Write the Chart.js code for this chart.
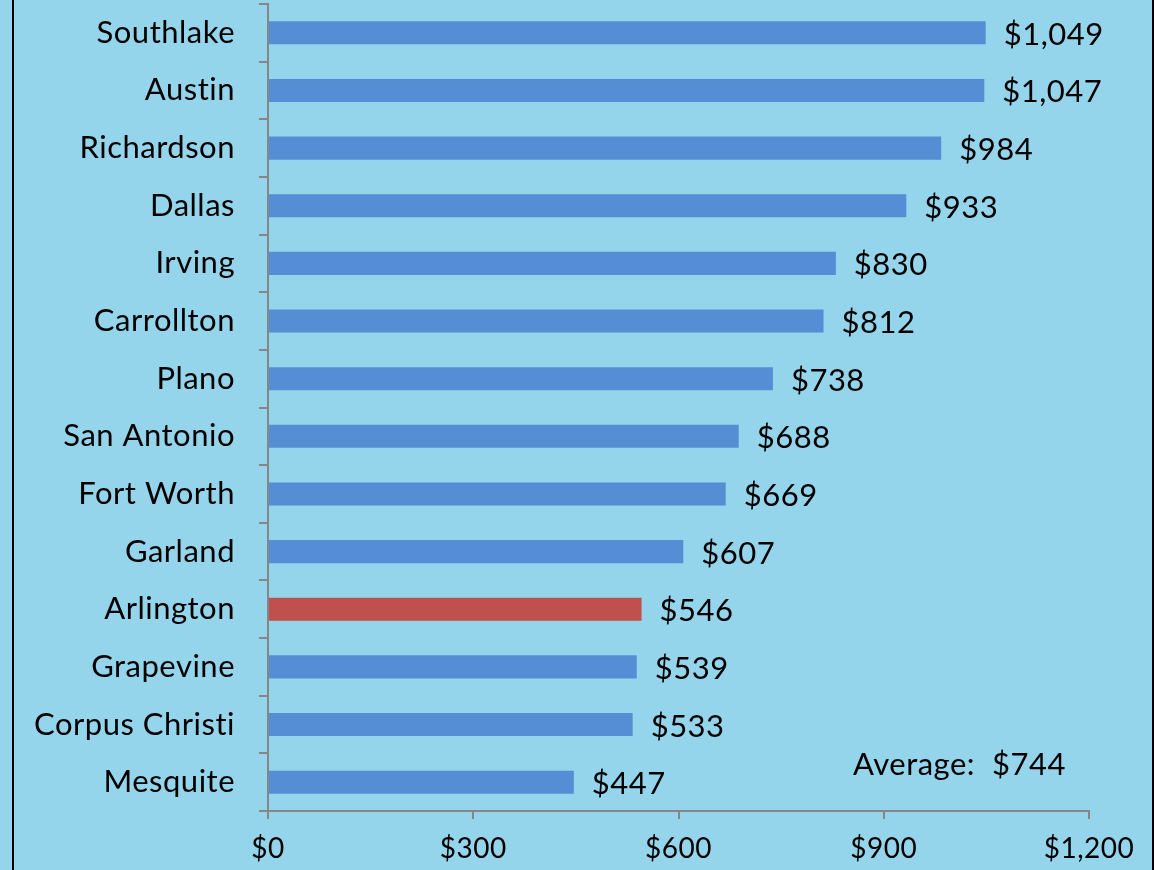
<!DOCTYPE html>
<html>
<head>
<meta charset="utf-8">
<script src="https://cdn.jsdelivr.net/npm/chart.js@4/dist/chart.umd.min.js"></script>
<style>
html,body{margin:0;padding:0;background:#95D5EC;}
#wrap{position:relative;width:1154px;height:870px;overflow:hidden;}
#frame{position:absolute;left:12px;top:0;width:1138px;height:870px;border-left:2px solid #000;border-right:2px solid #000;pointer-events:none;}
canvas{position:absolute;left:0;top:0;}
</style>
</head>
<body>
<div id="wrap">
<canvas id="c" width="1154" height="870"></canvas>
<div id="frame"></div>
</div>
<script>
const cities = ["Southlake","Austin","Richardson","Dallas","Irving","Carrollton","Plano","San Antonio","Fort Worth","Garland","Arlington","Grapevine","Corpus Christi","Mesquite"];
const costs = [1049,1047,984,933,830,812,738,688,669,607,546,539,533,447];
const highlightCity = "Arlington";
const averageValue = 744;
const xTicks = [0,300,600,900,1200];

const FONT = "Lato, 'Open Sans', sans-serif";
const fmt = v => "$" + v.toLocaleString("en-US");

const spacingPlugin = {
  id: "spacing",
  beforeDraw(chart) { chart.ctx.letterSpacing = "0.5px"; }
};

const labelPlugin = {
  id: "labels",
  afterDatasetsDraw(chart) {
    const ctx = chart.ctx;
    const meta = chart.getDatasetMeta(0);
    ctx.save();
    ctx.letterSpacing = "0.5px";
    ctx.font = "31px " + FONT;
    ctx.fillStyle = "#000";
    ctx.textBaseline = "middle";
    ctx.textAlign = "left";
    meta.data.forEach((bar, i) => {
      ctx.fillText(fmt(costs[i]), bar.x + 18, bar.y + 2);
    });
    ctx.fillText("Average:  " + fmt(averageValue), 853, 765);
    ctx.restore();
  }
};

new Chart(document.getElementById("c"), {
  type: "bar",
  data: {
    labels: cities,
    datasets: [{
      data: costs,
      backgroundColor: cities.map(c => c === highlightCity ? "#C0504D" : "#558ED5"),
      borderWidth: 0,
      categoryPercentage: 1,
      barPercentage: 0.4
    }]
  },
  options: {
    indexAxis: "y",
    responsive: false,
    animation: false,
    devicePixelRatio: 1,
    layout: { padding: { top: 4, right: 65, left: 0, bottom: 0 } },
    plugins: { legend: { display: false }, tooltip: { enabled: false } },
    scales: {
      x: {
        min: 0, max: 1200,
        afterBuildTicks(axis) { axis.ticks = xTicks.map(v => ({ value: v })); },
        afterFit(axis) { axis.height = 59; axis.paddingLeft = 0; axis.paddingRight = 0; },
        grid: { drawOnChartArea: false, color: "#868686", tickLength: 8, lineWidth: 2 },
        border: { color: "#868686", width: 2 },
        ticks: { font: { family: FONT, size: 28 }, color: "#000", padding: 13, callback: v => fmt(v), maxRotation: 0 }
      },
      y: {
        afterFit(axis) { axis.width = 268; axis.paddingTop = 0; axis.paddingBottom = 0; },
        grid: { drawOnChartArea: false, offset: true, color: "#868686", tickLength: 9, lineWidth: 2 },
        border: { color: "#868686", width: 2 },
        ticks: { font: { family: FONT, size: 31 }, color: "#000", padding: 24 }
      }
    }
  },
  plugins: [spacingPlugin, labelPlugin]
});
</script>
</body>
</html>
